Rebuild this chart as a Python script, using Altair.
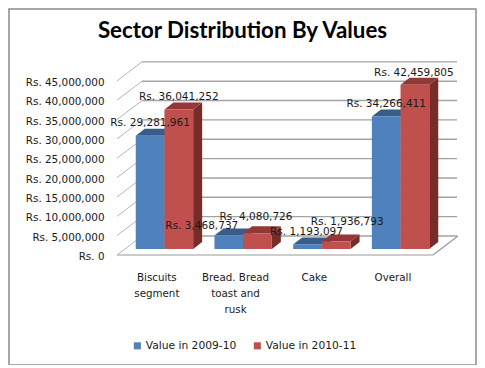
import json
import altair as alt
import pandas as pd

categories = [["Biscuits", "segment"], ["Bread. Bread", "toast and", "rusk"], ["Cake"], ["Overall"]]
series = ["Value in 2009-10", "Value in 2010-11"]
values_a = [29281961, 3468737, 1193097, 34266411]
values_b = [36041252, 4080726, 1936793, 42459805]
ticks = list(range(0, 45000001, 5000000))
colors_front = ["#4F81BD", "#C0504D"]
colors_top = ["#385D8A", "#953735"]
colors_side = ["#2F4E74", "#772C2A"]
nudge_x = [[0, -27, -1, 0], [0, -1.5, 11, -1]]
nudge_up = [[13.6, 10.7, 13, 13], [13.3, 17.3, 21, 13]]

# layout: pixels per unit on both scales
PX_U = 78.7
PX_V = 3.87e-6
W, H = 340, 197
FONT = "DejaVu Sans"
TXT = "#1a1a1a"
GRID = "#a3a3a3"

u = lambda px: px / PX_U
v = lambda px: px / PX_V

u_min = -0.5
xs = alt.Scale(domain=[u_min, u_min + u(W)], nice=False, zero=False)
ys = alt.Scale(domain=[0, v(H)], nice=False, zero=False)

axis_x = alt.Axis(
    values=[0, 1, 2, 3], title=None, domain=False, ticks=False, grid=False, labels=True,
    labelExpr=json.dumps(categories) + "[datum.value]",
    labelFont=FONT, labelFontSize=10.3, labelColor=TXT, labelPadding=17, labelLineHeight=16,
    labelAlign="center", labelBaseline="top", labelOverlap=False, labelFlush=False,
)
axis_y = alt.Axis(
    values=ticks, title=None, domain=False, ticks=False, grid=False,
    labelExpr="'Rs. ' + format(datum.value, ',')",
    labelFont=FONT, labelFontSize=10.4, labelColor=TXT, labelPadding=13, labelOverlap=False,
    labelOffset=1.5,
)
X = alt.X("x:Q", scale=xs, axis=axis_x)
Y = alt.Y("y:Q", scale=ys, axis=axis_y)
X2 = alt.X2("x2:Q")
Y2 = alt.Y2("y2:Q")

# wall depth and bar depth
wall_dx, wall_dy = u(25), v(19)
bar_dx, bar_dy = u(9), v(7)
base_v = v(6)
bar_w = u(28.7)
floor_right = u_min + u(316)

grid_df = pd.DataFrame({
    "x": [u_min + wall_dx] * len(ticks), "x2": [u_min + u(W)] * len(ticks),
    "y": [t + wall_dy for t in ticks], "y2": [t + wall_dy for t in ticks],
})
grid = alt.Chart(grid_df).mark_rule(color=GRID, strokeWidth=1.4).encode(x=X, x2=X2, y=Y, y2=Y2)

slant_df = pd.DataFrame({
    "x": [u_min] * len(ticks), "x2": [u_min + wall_dx] * len(ticks),
    "y": ticks, "y2": [t + wall_dy for t in ticks],
})
slants = alt.Chart(slant_df).mark_rule(color="#b5b5b5", strokeWidth=1).encode(x=X, x2=X2, y=Y, y2=Y2)

floor_df = pd.DataFrame({
    "x": [u_min, floor_right], "x2": [floor_right, floor_right + wall_dx],
    "y": [0, 0], "y2": [0, wall_dy],
})
floor = alt.Chart(floor_df).mark_rule(color="#9a9a9a", strokeWidth=1.2).encode(x=X, x2=X2, y=Y, y2=Y2)

fronts, tops, sides, labels = [], [], [], []
for s, vals in enumerate([values_a, values_b]):
    for i, val in enumerate(vals):
        x0 = i - u(20.6) + s * bar_w
        x1 = x0 + bar_w
        top = val + base_v
        fronts.append({"x": x0, "x2": x1, "y": base_v, "y2": top, "series": series[s]})
        bar = f"{s}-{i}"
        for t in (0, 1):
            sides.append({"bar": bar, "s": series[s], "x": x1 + t * bar_dx,
                          "y": base_v + t * bar_dy, "y2": top + t * bar_dy})
            tops.append({"bar": bar, "s": series[s], "x": x0 + t * bar_dx, "x2": x1 + t * bar_dx,
                         "y": top + t * bar_dy})
        labels.append({"x": x0 + bar_w / 2 + u(nudge_x[s][i]), "y": top + v(nudge_up[s][i]),
                       "text": "Rs. " + format(val, ",")})

side_layer = alt.Chart(pd.DataFrame(sides)).mark_area(opacity=1).encode(
    x=X, y=Y, y2=Y2, detail="bar:N",
    fill=alt.Fill("s:N", scale=alt.Scale(domain=series, range=colors_side), legend=None),
)
top_layer = alt.Chart(pd.DataFrame(tops)).mark_area(opacity=1, orient="horizontal").encode(
    x=X, x2=X2, y=Y, detail="bar:N",
    fill=alt.Fill("s:N", scale=alt.Scale(domain=series, range=colors_top), legend=None),
)
front_layer = alt.Chart(pd.DataFrame(fronts)).mark_rect().encode(
    x=X, x2=X2, y=Y, y2=Y2,
    color=alt.Color(
        "series:N", scale=alt.Scale(domain=series, range=colors_front),
        legend=alt.Legend(
            title=None, orient="none", legendX=15, legendY=282, direction="horizontal",
            symbolType="square", symbolSize=50, symbolStrokeWidth=0, columnPadding=15,
            labelFont=FONT, labelFontSize=10.7, labelColor=TXT, labelOffset=3,
        ),
    ),
)
label_layer = alt.Chart(pd.DataFrame(labels)).mark_text(
    font=FONT, fontSize=10.5, color=TXT, align="center", baseline="middle", dy=1
).encode(x=X, y=Y, text="text:N")

frame = alt.Chart(pd.DataFrame({"a": [0]})).mark_rect(
    fill=None, stroke="#8c8c8c", strokeWidth=1.5
).encode(
    x=alt.value(-108), x2=alt.value(359), y=alt.value(-49), y2=alt.value(307),
)
title = alt.Chart(pd.DataFrame({"t": ["Sector Distribution By Values"]})).mark_text(
    font="Lato", fontSize=22.3, fontWeight="bold", color="black", align="center", baseline="middle"
).encode(x=alt.value(125.5), y=alt.value(-27), text="t:N")

chart = (
    alt.layer(grid, slants, floor, side_layer, top_layer, front_layer, label_layer, frame, title)
    .resolve_scale(color="independent", fill="independent")
    .properties(
        width=W, height=H,
        padding={"left": 109, "top": 50, "right": 20, "bottom": 110},
        autosize=alt.AutoSizeParams(type="none"),
        background="white",
    )
    .configure_view(strokeWidth=0)
)

chart.save("out.html", embed_options={"renderer": "svg", "actions": False})
